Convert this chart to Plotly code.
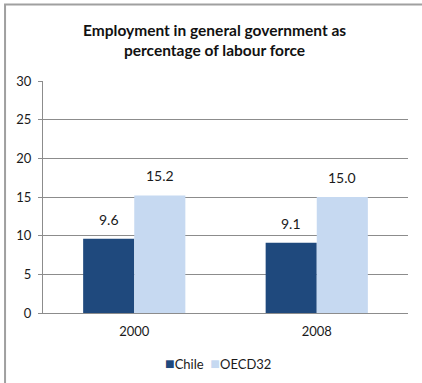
import plotly.graph_objects as go

years = ["2000", "2008"]
chile = [9.6, 9.1]
oecd = [15.2, 15.0]
y_ticks = [0, 5, 10, 15, 20, 25, 30]
series_names = ["Chile", "OECD32"]
series_colors = ["#1F497D", "#C6D9F1"]
title_text = "<b>Employment in general government as<br>percentage of labour force</b>"

font_family = "Lato, 'Open Sans', sans-serif"
pos = list(range(len(years)))

fig = go.Figure()
annotations = []
for name, vals, color, shift in zip(series_names, [chile, oecd], series_colors, [-25.5, 25.5]):
    fig.add_trace(go.Bar(
        x=pos, y=vals, name=name,
        marker=dict(color=color, line=dict(width=0)),
        showlegend=False,
    ))
    for p, v in zip(pos, vals):
        annotations.append(dict(x=p, y=v, xref="x", yref="y", text=f"{v:.1f}", showarrow=False,
                                xanchor="center", yanchor="bottom", xshift=shift, yshift=9,
                                font=dict(size=14, color="#1a1a1a", family=font_family)))

legend_text = "  ".join(f"<span style='color:{c};font-size:16px'>■</span>{n}"
                        for n, c in zip(series_names, series_colors))
annotations.append(dict(text=legend_text, xref="paper", yref="paper", x=0.48, y=-0.215,
                        xanchor="center", yanchor="middle", showarrow=False,
                        font=dict(size=13, family=font_family, color="#1a1a1a")))
annotations.append(dict(text=title_text, xref="paper", yref="paper", x=0.47, y=1.0,
                        yshift=20, xanchor="center", yanchor="bottom", showarrow=False,
                        font=dict(size=15.5, family=font_family, color="#111111")))

fig.update_layout(
    width=422, height=383,
    margin=dict(l=43, r=14, t=81, b=70, autoexpand=False),
    paper_bgcolor="white", plot_bgcolor="white",
    barmode="group", bargap=0.44, bargroupgap=0,
    font=dict(family=font_family, size=12, color="#1a1a1a"),
    showlegend=False,
    annotations=annotations,
    shapes=[
        dict(type="rect", xref="paper", yref="paper", x0=-0.104, x1=1.2, y0=-0.5, y1=1.33,
             line=dict(color="#A0A0A0", width=2), fillcolor="rgba(0,0,0,0)", layer="above"),
    ],
)
fig.update_yaxes(range=[0, 30], tickvals=y_ticks, showgrid=True, gridcolor="#8C8C8C", gridwidth=1,
                 showline=True, linecolor="#8C8C8C", linewidth=1, ticks="outside", ticklen=4,
                 tickcolor="#8C8C8C", zeroline=False, tickfont=dict(size=13), ticklabelstandoff=4)
fig.update_xaxes(range=[-0.5, len(years) - 0.5], tickvals=pos, ticktext=years,
                 showline=True, linecolor="#8C8C8C", linewidth=1, ticks="", showgrid=False,
                 zeroline=False, tickfont=dict(size=13), ticklabelstandoff=6)

fig.write_html("out.html", config={"displayModeBar": False},
               post_script="document.body.style.margin='0';document.body.style.padding='0';")
